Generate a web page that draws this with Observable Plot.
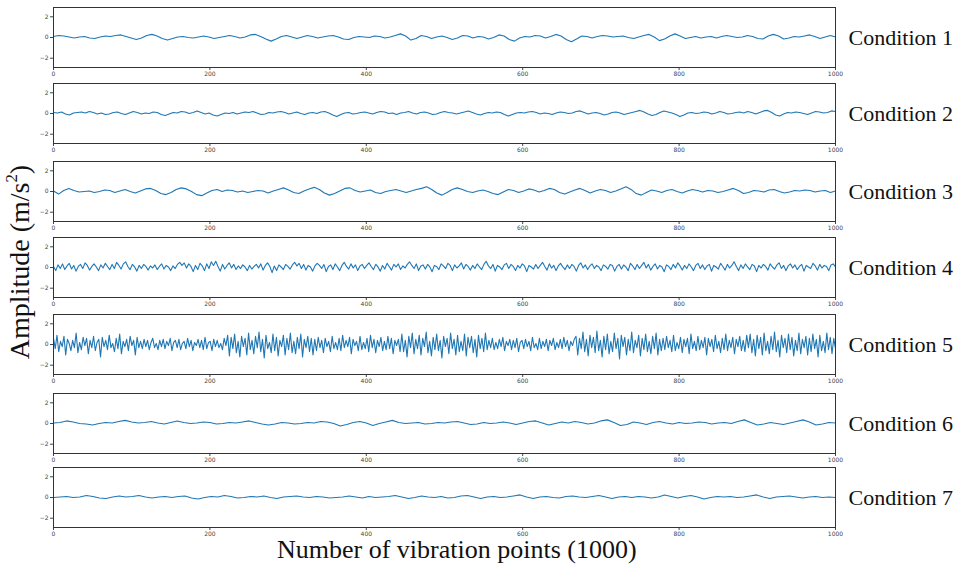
<!DOCTYPE html>
<html>
<head>
<meta charset="utf-8">
<script src="https://cdn.jsdelivr.net/npm/d3@7"></script>
<script src="https://cdn.jsdelivr.net/npm/@observablehq/plot@0.6"></script>
<style>
  html, body { margin: 0; padding: 0; background: #fff; }
  #chart { position: relative; width: 961px; height: 574px; overflow: hidden; background: #fff; }
  .panel { position: absolute; left: 0; }
  .ylab { position: absolute; font-family: "Liberation Serif", "Times New Roman", serif; font-size: 28px; color: #111; white-space: nowrap; transform-origin: center center; }
  .xlab { position: absolute; font-family: "Liberation Serif", "Times New Roman", serif; font-size: 26px; color: #111; white-space: nowrap; }
</style>
</head>
<body>
<div id="chart"></div>
<script>
// ---- data ----
const conditions = ["Condition 1","Condition 2","Condition 3","Condition 4","Condition 5","Condition 6","Condition 7"];
const xTicks = [0, 200, 400, 600, 800, 1000];
const yTicks = [-2, 0, 2];
const xMax = 1000;

const cond1 = [.1,.2,.15,.05,-.05,.05,.1,-.05,-.1,.05,.15,.1,.2,.25,.1,-.05,-.2,-.05,.2,.3,.15,-.1,-.25,-.1,.05,.1,0,-.05,.05,.15,.05,-.1,0,.1,.2,.1,-.05,.05,.25,.3,.1,-.15,-.35,-.15,.1,.2,.05,-.1,.05,.2,.1,-.05,.05,.15,.2,.05,-.15,-.2,0,.1,.05,0,.15,.1,-.05,.05,.2,.35,.15,-.25,-.1,.2,.1,-.1,.05,.15,0,-.2,-.05,.2,.15,-.05,.1,.05,-.15,0,.25,.15,-.2,-.35,-.05,.1,.05,.2,.15,-.05,.1,.3,.15,-.2,-.4,-.15,.15,.1,-.05,.1,.2,.15,.05,.1,.15,0,-.1,.05,.2,.3,.05,-.3,-.15,.15,.35,.15,-.1,0,.1,-.05,.05,.1,-.05,.1,.2,.1,0,.05,.2,.1,-.1,-.15,.15,.3,.15,-.15,-.05,.1,.05,.15,.25,.1,-.1,.05,.2,.05];
const cond2 = [.1,.05,.15,-.05,-.15,.05,.1,.15,.05,.2,.1,-.05,.05,-.1,-.05,.1,.15,0,-.1,.05,.2,.1,-.05,.05,0,.15,.1,-.1,-.2,-.05,.1,.05,.2,.15,0,.1,.25,.1,-.05,.05,-.15,-.25,-.1,.05,0,.1,-.05,.05,.15,.1,.2,.05,-.1,-.05,.1,.05,.15,.2,.1,-.05,.05,.15,0,-.1,.05,.1,0,.15,.2,.05,-.15,-.3,-.1,.05,.1,-.05,0,.1,.15,.05,-.05,.1,.2,.15,0,.05,-.1,.05,.1,.2,.05,-.05,.1,.15,.05,-.1,-.05,.1,.2,.1,.05,-.05,.05,.15,.25,.1,-.05,-.15,0,.1,.05,.15,.1,-.1,-.25,-.1,.05,.1,.05,.15,.2,.1,-.05,.05,0,-.1,.05,.15,.1,0,.05,.2,.25,.1,-.05,.05,.1,0,-.15,-.05,.1,.15,.05,-.1,0,.1,.2,.3,.15,-.05,-.2,-.1,.1,.25,.15,.05,-.1,-.3,-.15,.05,.1,0,.05,.15,.1,-.05,.05,.2,.1,-.05,0,.1,.15,.05,.2,.1,-.05,.1,.25,.3,.1,-.15,-.25,-.05,.1,.05,.15,.1,0,-.1,.05,.2,.15,.05,.1,.25,.2];
const cond3 = [.05,-.25,.1,.3,.1,-.05,0,.05,-.1,0,.15,.1,-.1,.05,.2,0,-.15,.05,.25,.3,.1,-.2,-.3,-.1,.2,.35,.25,0,-.3,-.4,-.15,.1,.2,0,.15,.1,-.05,.05,-.1,0,.1,.05,-.15,.05,.2,.35,.15,-.1,-.2,.05,.25,.4,.2,-.15,-.35,-.2,.05,.3,.35,.1,-.05,.05,.15,-.1,-.2,0,.1,.2,.05,-.1,.05,.2,.3,.45,.2,-.15,-.35,-.1,.2,.35,.2,0,-.1,.05,.15,0,-.2,-.3,-.05,.2,.1,-.1,.05,.25,.15,-.05,.1,.3,.2,-.1,-.25,-.05,.15,.3,.1,-.15,.05,.2,.1,-.1,.05,.25,.45,.2,-.2,-.35,-.1,.15,.05,-.1,.1,.2,0,-.15,.05,.2,.1,-.05,.1,.05,-.1,0,.15,.3,.1,-.2,-.1,.1,.05,-.05,.15,.2,0,-.15,-.05,.1,.05,.15,.1,-.05,.05,.1,-.1,.05];
const cond4 = [.1,-.3,.25,-.1,.35,-.2,.15,.4,-.15,.2,-.35,.1,.3,-.1,.45,.2,-.25,.1,.35,.05,-.3,.25,-.05,.4,.1,-.2,.3,-.1,.5,.2,-.15,.35,.55,.1,-.2,.3,.05,-.35,.2,-.1,.3,.1,-.25,.15,-.05,.25,-.2,.1,.35,-.15,.2,.05,-.3,.15,-.1,.3,.5,.2,.45,-.05,.35,.1,-.4,.2,-.2,.4,.15,-.3,.35,-.1,.55,.2,.6,.1,-.35,.3,-.15,.2,.45,-.05,.3,-.2,.15,-.1,.25,.05,-.3,.2,-.15,.1,.3,-.05,.35,-.25,.2,.45,.1,-.5,.15,-.3,.25,.05,-.2,.3,.1,-.15,.25,.5,.15,.4,-.1,.3,-.25,.2,.05,-.35,.15,.4,.2,-.1,.3,-.4,.1,.25,-.2,.35,.05,-.3,.2,.5,.1,-.15,.35,-.05,.25,-.3,.15,.3,-.1,.2,.45,.1,-.2,.3,.05,-.35,.2,-.15,.4,.1,-.25,.3,.05,.35,-.2,.15,-.05,.3,.55,.2,-.1,.35,-.3,.15,.25,-.15,.3,.05,-.4,.2,.1,-.2,.35,.15,-.1,.4,.2,-.3,.25,-.05,.15,.45,-.15,.3,.1,-.25,.2,-.1,.35,.05,-.2,.3,.6,.15,-.1,.3,-.35,.2,.05,-.2,.25,.4,-.1,.3,.1,-.3,.2,-.05,.35,.15,-.4,.2,.05,-.15,.3,-.1,.2,.5,.1,-.25,.35,-.05,.2,-.3,.15,.4,.05,-.2,.25,-.1,.3,.1,-.35,.2,.45,-.05,.25,-.2,.15,.35,-.1,.2,.05,-.3,.25,.1,-.15,.3,
  .2,-.35,.1,.3,-.15,.25,.05,-.3,.4,.15,-.2,.3,-.1,.2,.5,-.05,.3,-.25,.1,.35,-.15,.2,.05,-.4,.25,.1,-.2,.3,-.05,.45,.15,-.25,.2,-.1,.35,.05,-.3,.2,.4,-.1,.25,-.2,.15,.3,-.35,.2,.05,-.15,.4,.1,-.25,.3,-.05,.2,.55,.1,-.3,.25,-.1,.35,.05,-.2,.3,.15,-.4,.2,-.05,.3,.1,-.25,.35,.05,-.15,.25,.45,-.1,.2,-.3,.15,.35,-.05,.25,-.2,.1,.3,-.35,.2,.05,-.1,.4,.15,-.25,.3,-.05,.2,.1,-.3,.25,.35,.05];
const cond5 = [.6,-.4,.9,-.7,.3,-.2,.8,-1,.5,.1,-.6,.4,-.3,1.1,-.8,.2,-.5,.7,-.1,.6,-.9,.4,-.3,.8,-.6,.2,.5,-1.2,.7,-.2,.4,-.5,.9,-.3,.1,-.7,.6,-.4,1,-.9,.3,-.2,.5,-.6,.8,-.1,.4,-1,.7,-.3,
  .3,-.4,.5,-.2,.4,-.5,.2,.6,-.3,.1,-.5,.4,-.2,.5,-.4,.3,-.1,.6,-.6,.2,.4,-.3,.5,-.5,.1,.3,-.4,.6,-.2,.4,-.6,.2,-.1,.5,-.3,.4,-.5,.7,-.4,.2,.3,-.6,.5,-.2,.4,-.3,.1,-.5,.6,-.1,
  .9,-1.1,.7,-.4,1,-.8,.3,-1.2,.8,-.2,.6,-1,1.1,-.5,.4,-.9,.8,-.3,1.2,-.7,.5,-1.3,.9,-.4,.2,-.8,1,-.6,.7,-1.1,.4,-.2,.9,-1,.6,-.5,1.1,-.8,.3,-.9,.7,-.4,1,-1.2,.5,-.3,.8,-.7,.6,-1,
  .5,-.6,.7,-.3,.4,-.8,.6,-.2,.3,-.7,.8,-.4,.2,-.5,.6,-.6,.9,-.3,.4,-.2,.7,-.9,.5,-.1,.3,-.6,.8,-.5,.2,-.4,.6,-.7,.9,-.3,.5,-.8,.4,-.2,.7,-.6,.3,-.5,.8,-.4,.6,-.9,.4,-.1,.5,-.7,
  1,-.7,.4,-1.2,.8,-.3,1.1,-.9,.5,-.4,.9,-1,.6,-.2,1.2,-.8,.3,-1.1,.7,-.5,1,-.6,.4,-1.3,.8,-.2,.6,-.9,1.1,-.4,.5,-1,.9,-.7,.3,-.6,1,-1.1,.7,-.3,.8,-.8,.5,-1.2,.9,-.4,.6,-.7,1.1,-.5,
  .4,-.3,.6,-.5,.2,-.4,.5,-.2,.7,-.6,.3,-.1,.5,-.5,.4,-.3,.6,-.7,.2,.4,-.4,.5,-.2,.3,-.6,.7,-.3,.1,-.5,.6,-.4,.3,-.2,.5,-.6,.4,-.1,.6,-.5,.2,-.3,.5,-.4,.7,-.2,.4,-.6,.3,-.1,.5,
  .8,-1,.6,-.4,1.2,-.7,.5,-1.1,.9,-.3,.7,-.8,1.3,-.6,.4,-1.2,.8,-.5,1,-.9,.3,-.7,1.1,-.4,.6,-1.4,.9,-.2,.7,-1,.5,-.6,1.2,-.8,.4,-.3,.9,-1.1,.6,-.5,1,-.7,.3,-.9,.8,-.4,1.1,-1,.5,-.6,
  .6,-.5,.8,-.3,.4,-.7,.9,-.6,.2,-.4,.7,-.8,.5,-.2,.6,-.9,1,-.4,.3,-.6,.8,-.5,.4,-.3,.7,-1,.6,-.2,.5,-.7,.9,-.4,.3,-.8,.6,-.5,1,-.6,.4,-.3,.7,-.9,.5,-.2,.8,-.6,.4,-.7,.9,-.3,
  1,-.8,.5,-1.1,.9,-.4,.7,-1,1.1,-.6,.3,-.9,.8,-.5,1.2,-.7,.4,-1.2,.9,-.3,.6,-.8,1,-.5,.7,-1.1,.4,-.6,1.1,-.9,.5,-.3,.8,-1,.6,-.7,1,-.4,.5,-1.2,.9,-.6,.3,-.8,1.1,-.5,.7,-.9,.6,-.4];
const cond6 = [.05,.1,.25,.15,0,-.05,-.15,0,.1,.05,.2,.3,.15,.05,.1,.2,.05,-.05,.1,.25,.1,0,.05,.15,.1,-.05,0,.1,.05,.15,.25,.1,-.05,-.15,-.05,.1,.05,-.05,0,.1,.05,.2,.15,0,-.25,-.1,.1,.2,.05,-.2,0,.15,.3,.1,0,.05,.1,-.05,0,.1,.05,.15,.2,.05,-.1,-.05,.1,0,.05,.15,.05,-.1,.05,.2,.25,.05,-.15,0,.15,.05,.2,.1,-.05,.05,.25,.35,.1,-.2,-.1,.15,.05,-.1,.1,.2,.05,-.05,.1,0,.05,.15,.1,-.05,.05,.1,0,.2,.35,.1,-.15,-.05,.1,0,-.1,.05,.2,.35,.15,-.15,-.05,.1,.05];
const cond7 = [0,.05,.1,0,.05,.2,.1,-.05,-.1,.05,.15,.05,.1,.2,.05,-.05,.05,.1,0,.1,.15,-.05,-.15,0,.1,.05,.2,.1,-.05,0,.1,.05,.15,0,-.1,.05,.1,.15,.05,0,.1,.05,-.05,0,.05,.15,.05,-.05,.1,0,.05,.1,.2,.05,-.1,0,.15,.05,0,.1,-.05,0,.15,.2,.05,-.1,.05,.1,0,.05,.15,.25,.05,-.1,.05,.1,0,-.05,.1,.15,.05,0,.1,.2,.05,-.1,.05,.1,0,.1,.05,-.05,.05,.25,.1,-.05,.1,.2,.05,-.15,0,.1,.05,.1,0,.05,.15,.25,.05,-.1,.05,.1,.15,.05,-.05,.05,.1,0,.05,0];

const series = [cond1, cond2, cond3, cond4, cond5, cond6, cond7];

// ---- layout ----
const chart = document.getElementById("chart");
const W = 961;
const mTop = 4, mBottom = 14, innerH = 60;
const panelTops = [7, 83, 161, 237, 314, 393, 467];
const fmtY = d => d < 0 ? "\u2212" + (-d) : String(d);

series.forEach((vals, k) => {
  const n = vals.length;
  const rows = vals.map((v, i) => ({x: i * xMax / (n - 1), y: v}));
  const svg = Plot.plot({
    width: W,
    height: mTop + innerH + mBottom,
    marginLeft: 53,
    marginRight: 126,
    marginTop: mTop,
    marginBottom: mBottom,
    style: {fontFamily: "DejaVu Sans, sans-serif", fontSize: "6px", color: "#444", background: "transparent", overflow: "visible"},
    x: {domain: [0, xMax], ticks: xTicks, tickFormat: d => String(d), tickSize: 3, tickPadding: 1, label: null},
    y: {domain: [-2.9, 2.9], ticks: yTicks, tickFormat: fmtY, tickSize: 3, tickPadding: 2, label: null},
    marks: [
      Plot.lineY(rows, {x: "x", y: "y", stroke: "#1f77b4", strokeWidth: 1.1}),
      Plot.frame({stroke: "#333", strokeWidth: 1}),
      Plot.text([conditions[k]], {frameAnchor: "right", dx: 13, textAnchor: "start", fontSize: 22, fontFamily: "Liberation Serif, Times New Roman, serif", fill: "#111"})
    ]
  });
  const div = document.createElement("div");
  div.className = "panel";
  div.style.top = (panelTops[k] - mTop) + "px";
  div.appendChild(svg);
  chart.appendChild(div);
});

// axis titles
const ylab = document.createElement("div");
ylab.className = "ylab";
ylab.innerHTML = "Amplitude (m/s<sup style='font-size:0.6em;vertical-align:0.7em;line-height:0'>2</sup>)";
chart.appendChild(ylab);
const yw = ylab.offsetWidth, yh = ylab.offsetHeight;
ylab.style.left = (20 - yw / 2) + "px";
ylab.style.top = (262 - yh / 2) + "px";
ylab.style.transform = "rotate(-90deg)";

const xlab = document.createElement("div");
xlab.className = "xlab";
xlab.textContent = "Number of vibration points (1000)";
chart.appendChild(xlab);
const xw = xlab.offsetWidth, xh = xlab.offsetHeight;
xlab.style.left = (457 - xw / 2) + "px";
xlab.style.top = (550 - xh / 2) + "px";
</script>
</body>
</html>
